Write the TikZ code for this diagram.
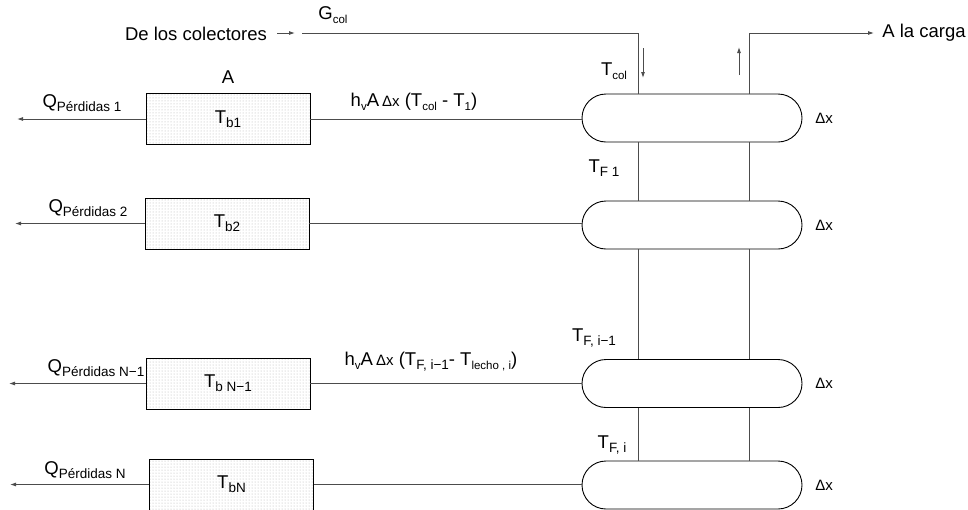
\documentclass[tikz,border=0pt]{standalone}
\usepackage{fontspec}
\setmainfont{Liberation Sans}
\usetikzlibrary{arrows.meta,patterns}
\newcommand{\lsub}[1]{\raisebox{-4pt}{\fontsize{13.5}{14}\selectfont #1}}
\newcommand{\ssub}[1]{\raisebox{-3.5pt}{\fontsize{11.5}{12}\selectfont #1}}
\newcommand{\dx}{{\fontsize{15}{16}\selectfont Δx}}
\begin{document}
\begin{tikzpicture}[x=1pt,y=-1pt,
  every node/.style={inner sep=0pt, font=\fontsize{18.5}{20}\selectfont},
  ln/.style={draw=black!70, line width=0.9pt},
  arr/.style={ln, -{Latex[length=6pt,width=4pt]}},
  bed/.style={draw=black, line width=0.9pt, minimum width=164pt, minimum height=51pt,
              preaction={fill=white}, pattern=dots, pattern color=black!30},
  capsule/.style={draw=black, line width=0.9pt, minimum width=220pt, minimum height=48pt,
              rounded corners=24pt, fill=white},
  ]
\useasboundingbox (0,0) rectangle (968,509);

% column x positions
\coordinate (xl) at (638,0);
\coordinate (xr) at (749,0);

% capsules
\node[capsule] (c1) at (692,118) {};
\node[capsule] (c2) at (692,225) {};
\node[capsule] (c3) at (692,383.5) {};
\node[capsule] (c4) at (692,485) {};

% beds
\node[bed] (b1) at (228,119) {T\lsub{b1}};
\node[bed] (b2) at (227,223.5) {T\lsub{b2}};
\node[bed] (b3) at (228,383.5) {T\lsub{b N−1}};
\node[bed] (b4) at (231.5,484.5) {T\lsub{bN}};

% bed to capsule connectors
\draw[ln] (b1.east) -- (b1.east -| c1.west);
\draw[ln] (b2.east) -- (b2.east -| c2.west);
\draw[ln] (b3.east) -- (b3.east -| c3.west);
\draw[ln] (b4.east) -- (b4.east -| c4.west);

% losses
\coordinate (q1) at (17,119);
\coordinate (q2) at (15,223.5);
\coordinate (q3) at (9,383.5);
\coordinate (q4) at (10,484.5);
\draw[arr] (b1.west) -- (q1);
\draw[arr] (b2.west) -- (q2);
\draw[arr] (b3.west) -- (q3);
\draw[arr] (b4.west) -- (q4);

% vertical pipes
\draw[ln] (c1.south -| xl) -- (c2.north -| xl);
\draw[ln] (c2.south -| xl) -- (c3.north -| xl);
\draw[ln] (c3.south -| xl) -- (c4.north -| xl);
\draw[ln] (c1.south -| xr) -- (c2.north -| xr);
\draw[ln] (c2.south -| xr) -- (c3.north -| xr);
\draw[ln] (c3.south -| xr) -- (c4.north -| xr);

% inlet
\coordinate (a0) at (277,33);
\coordinate (a1) at (295,33);
\coordinate (gin) at (302,33);
\draw[arr] (a0) -- (a1);
\draw[ln] (gin) -- (gin -| xl) -- (c1.north -| xl);
% outlet
\coordinate (out) at (874,33);
\draw[arr] (c1.north -| xr) -- (xr |- out) -- (out);

% flow arrows
\coordinate (d0) at (643,48);
\coordinate (d1) at (643,78);
\coordinate (u0) at (739,75);
\coordinate (u1) at (739,47);
\draw[arr] (d0) -- (d1);
\draw[arr] (u0) -- (u1);

% labels
\node (src) at (196,34) {De los colectores};
\node (dst) at (924,33) {A la carga};
\node (gcol) at (333,15) {G\ssub{col}};
\node (tcol) at (614,71) {T\ssub{col}};
\node (A) at (228,77) {A};
\node (h1) at (414,102) {h\ssub{v}A\,\dx\ (T\ssub{col} - T\ssub{1})};
\node (h2) at (431,362) {h\ssub{v}A\,\dx\ (T\lsub{F, i−1}- T\ssub{lecho , i})};
\node (tf1) at (604,168) {T\lsub{F 1}};
\node (tfi1) at (594,338) {T\lsub{F, i−1}};
\node (tfi) at (612,445) {T\lsub{F, i}};
\node (ql1) at (82,103) {Q\lsub{Pérdidas 1}};
\node (ql2) at (88,208) {Q\lsub{Pérdidas 2}};
\node (ql3) at (96,368) {Q\lsub{Pérdidas N−1}};
\node (ql4) at (85,470) {Q\lsub{Pérdidas N}};
\node (dx1) at (824,118) {\dx};
\node (dx2) at (824,225) {\dx};
\node (dx3) at (824,383.5) {\dx};
\node (dx4) at (824,485) {\dx};
\end{tikzpicture}
\end{document}
